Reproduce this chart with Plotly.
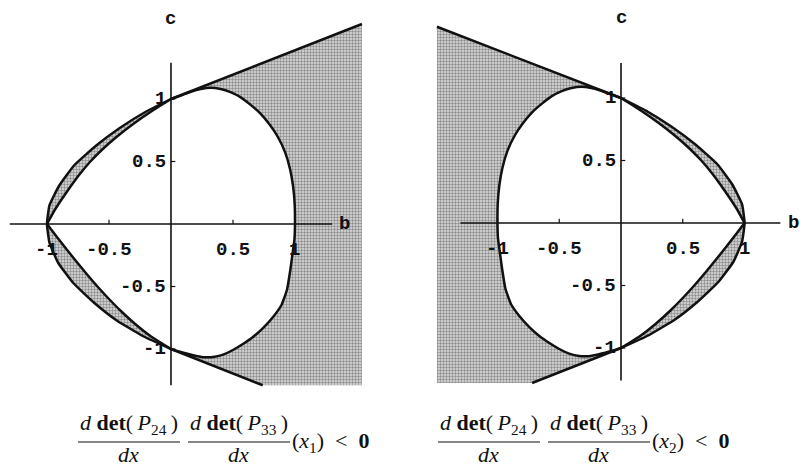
import plotly.graph_objects as go

W, H = 800, 464

# ---------------- left panel (root x1) ----------------
# outer boundary, from the tip at (0, 1) round the left vertex (-1, 0) to (0, -1)
outer_L_c = [1.0, 0.9, 0.77, 0.63, 0.47, 0.31, 0.15, 0.0, -0.15, -0.31, -0.47, -0.63, -0.77, -0.9, -1.0]
outer_L_b = [0.0, -0.2, -0.41, -0.6, -0.78, -0.9, -0.98, -1.0, -0.98, -0.91, -0.79, -0.62, -0.44, -0.22, 0.0]
# inner edge of the upper sliver, from (-1, 0) to (0, 1)
inner_up_L_c = [0.0, 0.1, 0.2, 0.3, 0.4, 0.5, 0.6, 0.7, 0.8, 0.9, 1.0]
inner_up_L_b = [-1.0, -0.945, -0.88, -0.81, -0.735, -0.65, -0.55, -0.435, -0.305, -0.16, 0.0]
# inner edge of the lower sliver, from (-1, 0) to (0, -1)
inner_lo_L_c = [0.0, -0.1, -0.2, -0.3, -0.4, -0.5, -0.6, -0.7, -0.8, -0.9, -1.0]
inner_lo_L_b = [-1.0, -0.923, -0.844, -0.763, -0.68, -0.593, -0.5, -0.4, -0.289, -0.161, 0.0]
# oval boundary, clockwise from (0, 1) through (1, 0) to (0, -1)
egg_L_b = [0.0, 0.08, 0.16, 0.24, 0.32, 0.40, 0.48, 0.56, 0.64, 0.72, 0.80, 0.86, 0.92, 0.96, 0.985, 0.998, 1.0,
           0.996, 0.984, 0.962, 0.935, 0.89, 0.823, 0.74, 0.661, 0.58, 0.50, 0.42, 0.339, 0.26, 0.177, 0.10, 0.04, 0.0]
egg_L_c = [1.0, 1.028, 1.058, 1.08, 1.09, 1.08, 1.055, 1.015, 0.955, 0.885, 0.79, 0.70, 0.575, 0.44, 0.30, 0.15, 0.0,
           -0.12, -0.21, -0.37, -0.528, -0.65, -0.744, -0.835, -0.904, -0.96, -1.008, -1.045, -1.064, -1.065, -1.05, -1.03, -1.013, -1.0]
# straight edges of the shaded region
top_L_b = [0.0, 1.54]
top_L_c = [1.0, 1.60]
bot_L_b = [0.0, 0.74]
bot_L_c = [-1.0, -1.29]
axis_b_L = [-1.30, 1.30]
axis_c_L = [-1.29, 1.29]

# ---------------- right panel (root x2) ----------------
outer_R_c = [1.0, 0.9, 0.77, 0.63, 0.47, 0.31, 0.15, 0.0, -0.15, -0.31, -0.47, -0.63, -0.77, -0.9, -1.0]
outer_R_b = [0.0, 0.2, 0.41, 0.6, 0.78, 0.9, 0.98, 1.0, 0.98, 0.91, 0.79, 0.62, 0.44, 0.22, 0.0]
inner_up_R_c = [0.0, 0.1, 0.2, 0.3, 0.4, 0.5, 0.6, 0.7, 0.8, 0.9, 1.0]
inner_up_R_b = [1.0, 0.945, 0.88, 0.81, 0.735, 0.65, 0.55, 0.435, 0.305, 0.16, 0.0]
inner_lo_R_c = [0.0, -0.1, -0.2, -0.3, -0.4, -0.5, -0.6, -0.7, -0.8, -0.9, -1.0]
inner_lo_R_b = [1.0, 0.923, 0.844, 0.763, 0.68, 0.593, 0.5, 0.4, 0.289, 0.161, 0.0]
egg_R_b = [0.0, -0.08, -0.16, -0.24, -0.32, -0.40, -0.48, -0.56, -0.64, -0.72, -0.80, -0.86, -0.92, -0.96, -0.985, -0.998, -1.0,
           -0.996, -0.984, -0.962, -0.935, -0.89, -0.823, -0.74, -0.661, -0.58, -0.50, -0.42, -0.339, -0.26, -0.177, -0.10, -0.04, 0.0]
egg_R_c = [1.0, 1.028, 1.058, 1.08, 1.09, 1.08, 1.055, 1.015, 0.955, 0.885, 0.79, 0.70, 0.575, 0.44, 0.30, 0.15, 0.0,
           -0.12, -0.21, -0.37, -0.528, -0.65, -0.744, -0.835, -0.904, -0.96, -1.008, -1.045, -1.064, -1.065, -1.05, -1.03, -1.013, -1.0]
top_R_b = [0.0, -1.49]
top_R_c = [1.0, 1.57]
bot_R_b = [0.0, -0.72]
bot_R_c = [-1.0, -1.28]
axis_b_R = [-1.30, 1.29]
axis_c_R = [-1.26, 1.28]

# tick marks and labels (same on both panels)
tick_vals = [-1, -0.5, 0.5, 1]
tick_text = ["-1", "-0.5", "0.5", "1"]

GRAY = dict(shape=".", bgcolor="#dedede", fgcolor="#3c3c3c", size=3, solidity=0.5)
INK = "#111111"
TICKFONT = dict(family="Liberation Mono", size=19, color=INK)

fig = go.Figure()


def add_panel(xa, ya, outer_b, outer_c, iu_b, iu_c, il_b, il_c, egg_b, egg_c,
              top_b, top_c, bot_b, bot_c, ax_b, ax_c, side):
    kw = dict(xaxis=xa, yaxis=ya, hoverinfo="skip", showlegend=False)
    # big shaded region: top edge, clip corner, bottom edge, then back along the oval
    rb = top_b + [top_b[-1], bot_b[-1]] + bot_b[::-1] + egg_b[::-1]
    rc = top_c + [bot_c[-1], bot_c[-1]] + bot_c[::-1] + egg_c[::-1]
    fig.add_trace(go.Scatter(x=rb, y=rc, mode="lines", fill="toself", line=dict(width=0),
                             fillcolor="rgba(0,0,0,0)", fillpattern=GRAY, **kw))
    # upper sliver
    fig.add_trace(go.Scatter(x=outer_b[:8] + iu_b, y=outer_c[:8] + iu_c, mode="lines", fill="toself",
                             line=dict(width=0), fillcolor="rgba(0,0,0,0)", fillpattern=GRAY, **kw))
    # lower sliver
    fig.add_trace(go.Scatter(x=outer_b[7:] + il_b[::-1], y=outer_c[7:] + il_c[::-1], mode="lines",
                             fill="toself", line=dict(width=0), fillcolor="rgba(0,0,0,0)",
                             fillpattern=GRAY, **kw))
    # boundary curves
    for xs, ys in [(outer_b, outer_c), (iu_b, iu_c), (il_b, il_c), (egg_b, egg_c)]:
        fig.add_trace(go.Scatter(x=xs, y=ys, mode="lines",
                                 line=dict(color=INK, width=2.5, shape="spline", smoothing=0.4), **kw))
    for xs, ys in [(top_b, top_c), (bot_b, bot_c)]:
        fig.add_trace(go.Scatter(x=xs, y=ys, mode="lines", line=dict(color=INK, width=2.5), **kw))
    # axes
    fig.add_trace(go.Scatter(x=ax_b, y=[0, 0], mode="lines", line=dict(color=INK, width=1.6), **kw))
    fig.add_trace(go.Scatter(x=[0, 0], y=ax_c, mode="lines", line=dict(color=INK, width=1.6), **kw))
    tx, ty = [], []
    for v in tick_vals:
        tx += [v, v, None]
        ty += [0, 0.035, None]
        tx += [0, 0.035, None]
        ty += [v, v, None]
    fig.add_trace(go.Scatter(x=tx, y=ty, mode="lines", line=dict(color=INK, width=1.2), **kw))
    for v, t in zip(tick_vals, tick_text):
        fig.add_annotation(x=v, y=-0.21, xref=xa, yref=ya, text="<b>%s</b>" % t, showarrow=False,
                           font=TICKFONT, xanchor="center", yanchor="middle")
        fig.add_annotation(x=-0.025, y=v, xref=xa, yref=ya, text="<b>%s</b>" % t, showarrow=False,
                           font=TICKFONT, xanchor="right", yanchor="middle")
    fig.add_annotation(x=0, y=1.64, xref=xa, yref=ya, text="<b>c</b>", showarrow=False,
                       font=TICKFONT, xanchor="center", yanchor="middle")
    fig.add_annotation(x=side, y=0, xref=xa, yref=ya, text="<b>b</b>", showarrow=False,
                       font=TICKFONT, xanchor="center", yanchor="middle")


add_panel("x", "y", outer_L_b, outer_L_c, inner_up_L_b, inner_up_L_c, inner_lo_L_b, inner_lo_L_c,
          egg_L_b, egg_L_c, top_L_b, top_L_c, bot_L_b, bot_L_c, axis_b_L, axis_c_L, 1.403)
add_panel("x2", "y2", outer_R_b, outer_R_c, inner_up_R_b, inner_up_R_c, inner_lo_R_b, inner_lo_R_c,
          egg_R_b, egg_R_c, top_R_b, top_R_c, bot_R_b, bot_R_c, axis_b_R, axis_c_R, 1.40)

# ---------------- condition captions under each panel ----------------
SERIF = dict(family="Liberation Serif", size=22, color=INK)


def px(x):
    return x / W


def py(y):
    return 1 - y / H


def caption(x0, idx):
    num24 = "<i>d</i> <b>det</b>(&#8201;<i>P</i><sub>24</sub>&#8201;)"
    num33 = "<i>d</i> <b>det</b>(&#8201;<i>P</i><sub>33</sub>&#8201;)"
    den = "<i>dx</i>"
    tail = "(<i>x</i><sub>%d</sub>)&#8194;&lt;&#8194;<b>0</b>" % idx
    for left, num in [(x0, num24), (x0 + 110, num33)]:
        fig.add_shape(type="line", xref="paper", yref="paper", x0=px(left), x1=px(left + 102),
                      y0=py(442), y1=py(442), line=dict(color=INK, width=1.2))
        fig.add_annotation(x=px(left + 51), y=py(424), xref="paper", yref="paper", text=num,
                           showarrow=False, font=SERIF, xanchor="center", yanchor="middle")
        fig.add_annotation(x=px(left + 50), y=py(454), xref="paper", yref="paper", text=den,
                           showarrow=False, font=SERIF, xanchor="center", yanchor="middle")
    fig.add_annotation(x=px(x0 + 212), y=py(442), xref="paper", yref="paper", text=tail,
                       showarrow=False, font=SERIF, xanchor="left", yanchor="middle")


caption(78, 1)
caption(438, 2)

ydom = [1 - 400 / H, 1]
fig.update_layout(
    width=W, height=H,
    margin=dict(l=0, r=0, t=0, b=0),
    paper_bgcolor="white", plot_bgcolor="white",
    xaxis=dict(domain=[0, 0.5], range=[-1.379, 1.847], visible=False),
    yaxis=dict(domain=ydom, range=[-1.408, 1.792], visible=False),
    xaxis2=dict(domain=[0.5, 1], range=[-1.789, 1.449], visible=False),
    yaxis2=dict(domain=ydom, range=[-1.416, 1.784], visible=False),
)

fig.write_html("out.html")
